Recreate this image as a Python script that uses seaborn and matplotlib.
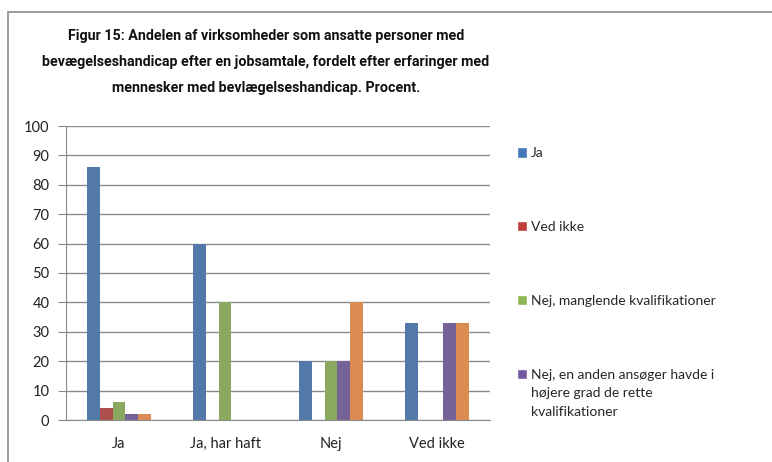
import pandas as pd
import seaborn as sns
import matplotlib.pyplot as plt
from matplotlib import font_manager
from matplotlib.patches import Rectangle, Patch

# data
categories = ["Ja", "Ja, har haft", "Nej", "Ved ikke"]
series = ["Ja", "Ved ikke", "Nej, manglende kvalifikationer",
          "Nej, en anden ansøger havde i højere grad de rette kvalifikationer",
          "Andet"]
ja = [86, 60, 20, 33]
ved_ikke = [4, 0, 0, 0]
nej_mangl = [6, 40, 20, 0]
nej_anden = [2, 0, 20, 33]
andet = [2, 0, 40, 33]

legend_labels = ["Ja", "Ved ikke", "Nej, manglende kvalifikationer",
                 "Nej, en anden ansøger havde i\nhøjere grad de rette\nkvalifikationer"]
colors = ["#4377B8", "#BE3F3C", "#8DB552", "#7359A0", "#F0883C"]

rows = []
for s, vals in zip(series, [ja, ved_ikke, nej_mangl, nej_anden, andet]):
    for c, v in zip(categories, vals):
        rows.append({"Erfaring": c, "Svar": s, "Procent": v})
df = pd.DataFrame(rows)

sns.set_style("white")
plt.rcParams['font.family'] = ['Lato', 'DejaVu Sans']

# narrowest title font that is actually installed
installed = {f.name for f in font_manager.fontManager.ttflist}
title_font = "DejaVu Sans"
for name in ["Liberation Sans Narrow", "DejaVu Sans Condensed", "Roboto", "Lato"]:
    if name in installed:
        title_font = name
        break

fig = plt.figure(figsize=(7.72, 4.62), dpi=100)
ax = fig.add_axes([66/772, 1-420/462, (490-66)/772, (420-126)/462])

sns.barplot(data=df, x="Erfaring", y="Procent", hue="Svar", order=categories,
            hue_order=series, palette=colors, width=0.6, linewidth=0,
            ax=ax, legend=False)

ax.set_ylim(0, 100)
ax.set_xlim(-0.5, 3.5)
ax.set_yticks(range(0, 101, 10))
ax.yaxis.grid(True, color="#8a8a8a", linewidth=1)
ax.set_axisbelow(True)
ax.set_xlabel("")
ax.set_ylabel("")
for side in ["top", "right"]:
    ax.spines[side].set_visible(False)
for side in ["left", "bottom"]:
    ax.spines[side].set_color("#8a8a8a")
ax.set_xticks([-0.5, 0.5, 1.5, 2.5, 3.5], minor=True)
ax.tick_params(axis="x", which="major", length=0, pad=12, labelsize=10.5)
ax.tick_params(axis="x", which="minor", length=5, color="#8a8a8a", direction="out")
ax.tick_params(axis="y", length=6, color="#8a8a8a", pad=6, labelsize=10.5, left=True)
for t in ax.get_yticklabels() + ax.get_xticklabels():
    t.set_color("#222222")

handles = [Patch(facecolor=c) for c in colors[:4]]
leg = fig.legend(handles, legend_labels, loc="upper left",
                 bbox_to_anchor=(504/772, 1-135/462),
                 frameon=False, fontsize=10, handlelength=0.75, handleheight=0.75,
                 handletextpad=0.3, labelspacing=4.45)
for t in leg.get_texts():
    t.set_linespacing(1.65)
# put the colour square next to the first line of a wrapped label
for col in leg._legend_handle_box.get_children():
    for row in col.get_children():
        row.align = "top"

fig.text(266/772, 1-62/462,
         "Figur 15: Andelen af virksomheder som ansatte personer med\n"
         "bevægelseshandicap efter en jobsamtale, fordelt efter erfaringer med\n"
         "mennesker med bevlægelseshandicap. Procent.",
         ha="center", va="center", fontsize=10.3, fontweight="bold",
         family=[title_font, 'DejaVu Sans'], linespacing=2.05, color="#111111")

fig.patches.append(Rectangle((8/772, -0.1), 1.0, 1-12/462+0.1, transform=fig.transFigure,
                             fill=False, edgecolor="#8a8a8a", linewidth=1.2))

fig.savefig("out.png", dpi=100)
